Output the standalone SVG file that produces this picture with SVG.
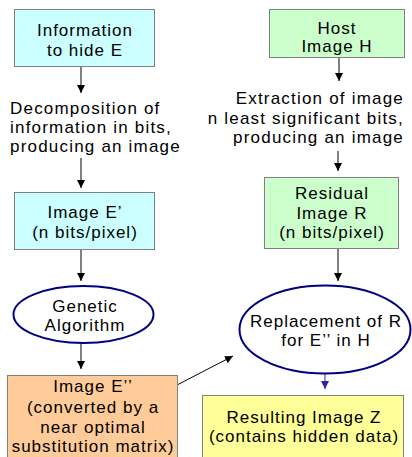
<svg xmlns="http://www.w3.org/2000/svg" width="412" height="457" viewBox="0 0 412 457">
  <style>
    .box { stroke: #808080; stroke-width: 1; }
    .oval { fill: #ffffff; stroke: #000080; stroke-width: 2; }
    .edge { stroke: #000000; stroke-width: 1; fill: none; }
    text { font-family: "Liberation Sans", Arial, sans-serif; font-size: 17px; fill: #000000; letter-spacing: 1px; }
    .c { text-anchor: middle; }
    .note { letter-spacing: 1.2px; }
  </style>
  <defs>
    <marker id="arrow" viewBox="0 0 10 10" refX="10" refY="5" markerWidth="8" markerHeight="8" markerUnits="userSpaceOnUse" orient="auto">
      <path d="M0,0 L10,5 L0,10 Z" fill="#000000"/>
    </marker>
    <marker id="arrowBlue" viewBox="0 0 10 10" refX="10" refY="5" markerWidth="8" markerHeight="8" markerUnits="userSpaceOnUse" orient="auto">
      <path d="M0,0 L10,5 L0,10 Z" fill="#2828a0"/>
    </marker>
  </defs>

  <!-- connectors -->
  <g id="connectors">
    <line class="edge" x1="81" y1="67" x2="81" y2="93" marker-end="url(#arrow)"/>
    <line class="edge" x1="81" y1="158" x2="81" y2="188" marker-end="url(#arrow)"/>
    <line class="edge" x1="81" y1="249" x2="81" y2="281" marker-end="url(#arrow)"/>
    <line class="edge" x1="81" y1="344" x2="81" y2="369" marker-end="url(#arrow)"/>
    <line class="edge" x1="339" y1="58" x2="339" y2="81" marker-end="url(#arrow)"/>
    <line class="edge" x1="338" y1="151" x2="338" y2="171" marker-end="url(#arrow)"/>
    <line class="edge" x1="338" y1="249" x2="338" y2="281" marker-end="url(#arrow)"/>
    <line class="edge" x1="177" y1="385" x2="233" y2="356" marker-end="url(#arrow)"/>
    <line x1="325" y1="374" x2="325" y2="389" stroke="#2828a0" stroke-width="1" marker-end="url(#arrowBlue)"/>
  </g>

  <!-- left column -->
  <g id="info-e">
    <rect class="box" x="14.5" y="9.5" width="140" height="57" fill="#ccffff"/>
    <text class="c" x="85" y="36">Information</text>
    <text class="c" x="85" y="56">to hide E</text>
  </g>

  <g id="decomposition">
    <text class="note" x="10" y="114">Decomposition of</text>
    <text class="note" x="10" y="133">information in bits,</text>
    <text class="note" x="10" y="152">producing an image</text>
  </g>

  <g id="image-e1">
    <rect class="box" x="14.5" y="192.5" width="140" height="57" fill="#ccffff"/>
    <text class="c" x="85" y="218">Image E’</text>
    <text class="c" x="85" y="238">(n bits/pixel)</text>
  </g>

  <g id="genetic">
    <ellipse class="oval" cx="83.5" cy="314.5" rx="70" ry="28.5"/>
    <text class="c" x="85" y="312">Genetic</text>
    <text class="c" x="85" y="331">Algorithm</text>
  </g>

  <g id="image-e2">
    <rect class="box" x="7.5" y="375.5" width="170" height="90" fill="#ffcc99"/>
    <text class="c" x="93" y="392">Image E’’</text>
    <text class="c" x="93" y="413">(converted by a</text>
    <text class="c" x="93" y="433">near optimal</text>
    <text class="c" x="93" y="452">substitution matrix)</text>
  </g>

  <!-- right column -->
  <g id="host-h">
    <rect class="box" x="269.5" y="9.5" width="135" height="48" fill="#ccffcc"/>
    <text class="c" x="337" y="34">Host</text>
    <text class="c" x="337" y="52">Image H</text>
  </g>

  <g id="extraction">
    <text class="note" x="404" y="104" text-anchor="end">Extraction of image</text>
    <text class="note" x="404" y="124" text-anchor="end">n least significant bits,</text>
    <text class="note" x="404" y="143" text-anchor="end">producing an image</text>
  </g>

  <g id="residual-r">
    <rect class="box" x="264.5" y="177.5" width="134" height="71" fill="#ccffcc"/>
    <text class="c" x="332" y="199">Residual</text>
    <text class="c" x="332" y="219">Image R</text>
    <text class="c" x="332" y="238">(n bits/pixel)</text>
  </g>

  <g id="replacement">
    <ellipse class="oval" cx="325" cy="329.5" rx="85.5" ry="44"/>
    <text class="c" x="326" y="327">Replacement of R</text>
    <text class="c" x="326" y="346">for E’’ in H</text>
  </g>

  <g id="result-z">
    <rect class="box" x="202.5" y="395.5" width="201" height="70" fill="#ffff99"/>
    <text class="c" x="304" y="423">Resulting Image Z</text>
    <text class="c" x="304" y="442">(contains hidden data)</text>
  </g>
</svg>
